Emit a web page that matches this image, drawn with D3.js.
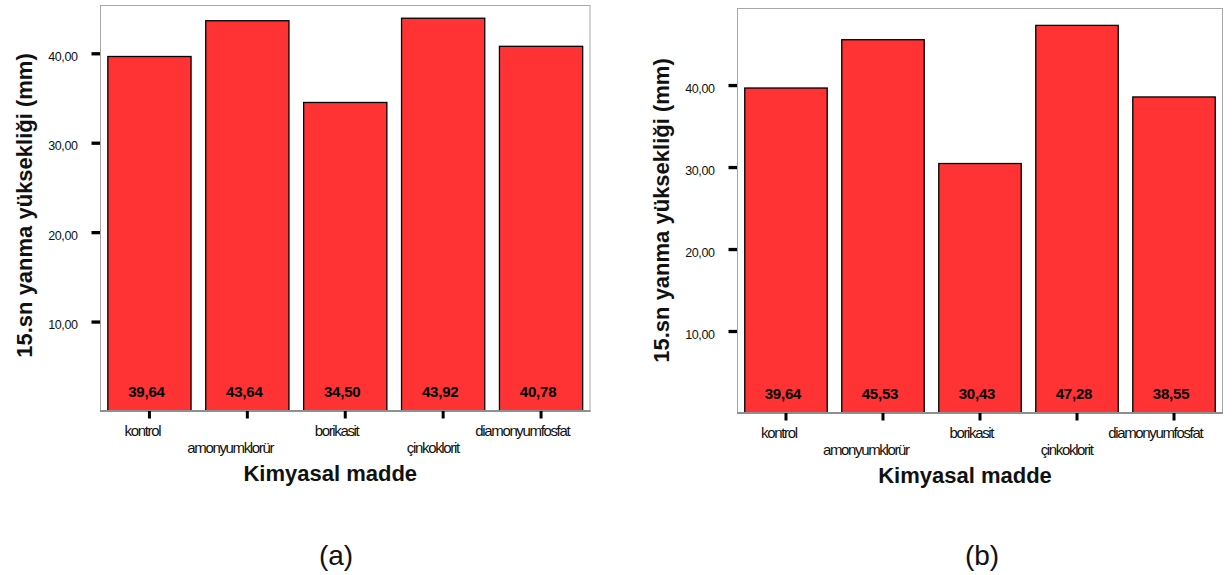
<!DOCTYPE html>
<html>
<head>
<meta charset="utf-8">
<script src="https://cdn.jsdelivr.net/npm/d3@7/dist/d3.min.js"></script>
<style>
  html, body { margin: 0; padding: 0; background: #ffffff; }
  svg { display: block; font-family: "Liberation Sans", Arial, sans-serif; }
</style>
</head>
<body>
<script>
// Chemical treatments on the x axis
const categories = ["kontrol", "amonyumklorür", "borikasit", "çinkoklorit", "diamonyumfosfat"];
// Mean flame height at 15 s (mm), panel (a)
const valuesA = [39.64, 43.64, 34.50, 43.92, 40.78];
// Mean flame height at 15 s (mm), panel (b)
const valuesB = [39.64, 45.53, 30.43, 47.28, 38.55];
// Y axis tick values
const yTicks = [10, 20, 30, 40];
// Axis titles and panel captions
const yTitle = "15.sn yanma yüksekliği (mm)";
const xTitle = "Kimyasal madde";
const captions = ["(a)", "(b)"];

const W = 1232, H = 575;
const FONT = '"Liberation Sans", Arial, sans-serif';

// Turkish-style number format: decimal comma
const locale = d3.formatLocale({ decimal: ",", thousands: ".", grouping: [3], currency: ["", ""] });
const fmt = locale.format(".2f");

const svg = d3.select("body").append("svg")
  .attr("width", W).attr("height", H);

function drawPanel(cfg, values) {
  const x = d3.scaleBand()
    .domain(categories)
    .range([cfg.left, cfg.right])
    .paddingInner(0.15)
    .paddingOuter(0.08);
  const y = d3.scaleLinear()
    .domain([0, cfg.yMax])
    .range([cfg.bottom, cfg.top]);

  const g = svg.append("g");

  // plot frame
  g.append("rect")
    .attr("x", cfg.left + 0.5).attr("y", cfg.top + 0.5)
    .attr("width", cfg.right - cfg.left - 1)
    .attr("height", cfg.bottom - cfg.top)
    .attr("fill", "none")
    .attr("stroke", "#a8a8a8")
    .attr("stroke-width", 1);

  // bars
  g.selectAll("rect.bar")
    .data(categories.map((c, i) => ({ c, v: values[i] })))
    .join("rect")
    .attr("class", "bar")
    .attr("x", d => x(d.c))
    .attr("y", d => y(d.v))
    .attr("width", x.bandwidth())
    .attr("height", d => y(0) - y(d.v))
    .attr("fill", "#ff3333")
    .attr("stroke", "#000000")
    .attr("stroke-width", 1.3);

  // baseline
  g.append("line")
    .attr("x1", cfg.left).attr("x2", cfg.right)
    .attr("y1", y(0)).attr("y2", y(0))
    .attr("stroke", "#8f8f8f")
    .attr("stroke-width", 2);

  // value labels inside the bars
  g.selectAll("text.val")
    .data(categories.map((c, i) => ({ c, v: values[i] })))
    .join("text")
    .attr("class", "val")
    .attr("x", d => x(d.c) + x.bandwidth() / 2)
    .attr("dx", -3)
    .attr("y", y(0) - 14)
    .attr("text-anchor", "middle")
    .style("font-family", FONT)
    .style("font-size", "15px")
    .style("font-weight", "bold")
    .style("letter-spacing", "-0.2px")
    .attr("fill", "#000")
    .text(d => fmt(d.v));

  // y axis
  const yAxis = g.append("g")
    .attr("transform", `translate(${cfg.left},0)`)
    .call(d3.axisLeft(y).tickValues(yTicks).tickSize(8.5).tickPadding(14).tickFormat(fmt));
  yAxis.select(".domain").remove();
  yAxis.selectAll(".tick line").attr("stroke", "#000").attr("stroke-width", 3.3);
  yAxis.selectAll(".tick text")
    .attr("dy", "0.58em")
    .style("font-family", FONT)
    .style("font-size", "12.5px")
    .style("letter-spacing", "-0.4px")
    .attr("fill", "#111");

  // x axis with staggered labels
  const xAxis = g.append("g")
    .attr("transform", `translate(0,${y(0)})`)
    .call(d3.axisBottom(x).tickSize(7.5));
  xAxis.select(".domain").remove();
  xAxis.selectAll(".tick line").attr("stroke", "#000").attr("stroke-width", 3);
  xAxis.selectAll(".tick text")
    .style("font-family", FONT)
    .style("font-size", "15px")
    .style("letter-spacing", "-1.35px")
    .attr("fill", "#111")
    .attr("text-anchor", "start")
    .attr("dy", null)
    .attr("y", (d, i) => (i % 2 ? 42 : 24.5))
    .each(function () {
      const w = this.getComputedTextLength();
      d3.select(this).attr("x", -0.7 * w);
    });

  // x axis title
  g.append("text")
    .attr("x", (cfg.left + cfg.right) / 2 - 15)
    .attr("y", cfg.bottom + 69.5)
    .attr("text-anchor", "middle")
    .style("font-family", FONT)
    .style("font-size", "22px")
    .style("font-weight", "bold")
    .attr("fill", "#111")
    .text(xTitle);

  // y axis title
  const cy = (cfg.top + cfg.bottom) / 2 + cfg.yTitleShift;
  g.append("text")
    .attr("transform", `translate(${cfg.left - 68.3},${cy}) rotate(-90)`)
    .attr("text-anchor", "middle")
    .style("font-family", FONT)
    .style("font-size", "22px")
    .style("font-weight", "bold")
    .attr("fill", "#111")
    .text(yTitle);

  // panel caption
  g.append("text")
    .attr("x", cfg.captionX)
    .attr("y", 565)
    .attr("text-anchor", "middle")
    .style("font-family", FONT)
    .style("font-size", "28px")
    .attr("fill", "#111")
    .text(cfg.caption);
}

drawPanel({ left: 100, right: 590.5, top: 5, bottom: 411, yMax: 45.4, yTitleShift: -2.5,
            captionX: 336, caption: captions[0] }, valuesA);
drawPanel({ left: 737, right: 1223, top: 8, bottom: 413, yMax: 49.4, yTitleShift: 0,
            captionX: 982, caption: captions[1] }, valuesB);
</script>
</body>
</html>
